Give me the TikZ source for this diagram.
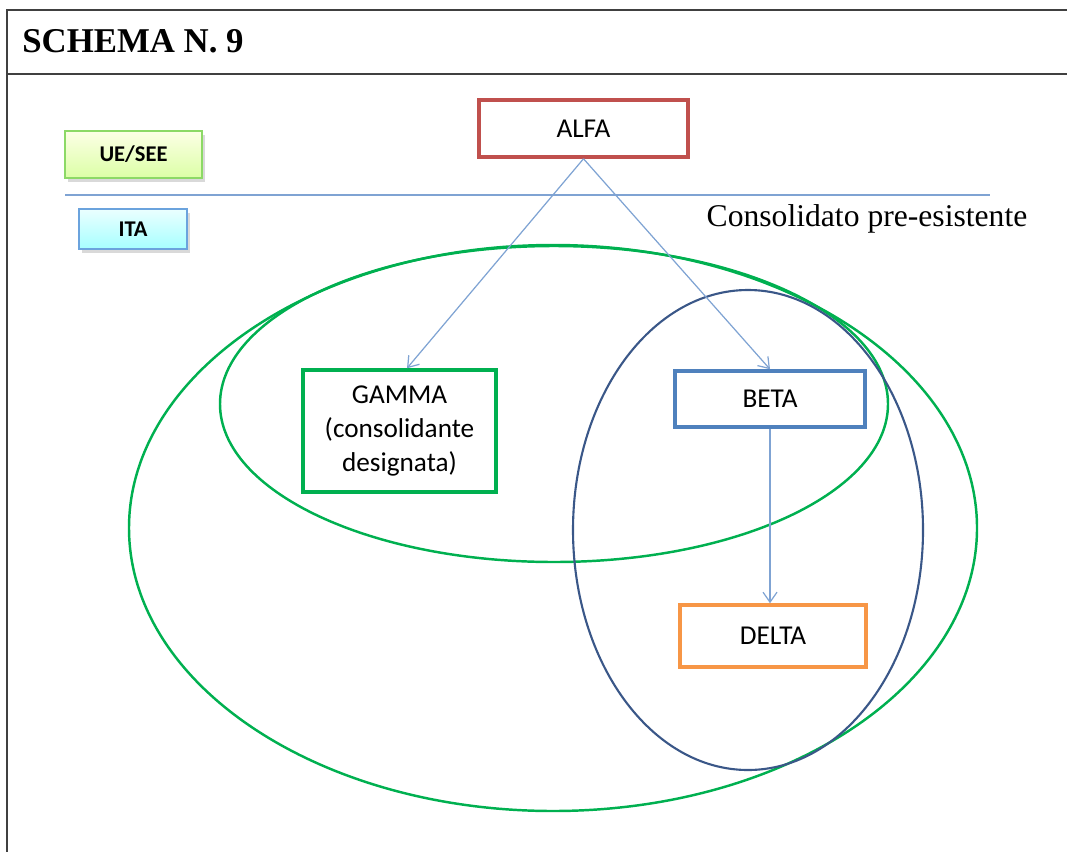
\documentclass[tikz,border=0pt]{standalone}
\usepackage{fontspec}
\setmainfont{Liberation Serif}
\newfontfamily\calibri{Carlito}
\usetikzlibrary{arrows.meta,shadows}
\definecolor{redbox}{HTML}{C0504D}
\definecolor{greenbox}{HTML}{00B050}
\definecolor{bluebox}{HTML}{4F81BD}
\definecolor{orangebox}{HTML}{F79646}
\definecolor{navyline}{HTML}{3A5788}
\definecolor{arrowblue}{HTML}{7FA3D3}
\begin{document}
\begin{tikzpicture}[x=0.02cm,y=-0.02cm,
	entity/.style={draw,line width=2pt,inner sep=0pt,align=center,font=\calibri\fontsize{15.5}{19.3}\selectfont},
	level/.style={draw,line width=0.7pt,inner sep=0pt,font=\calibri\bfseries\fontsize{12.8}{14}\selectfont,drop shadow={shadow xshift=0.6mm,shadow yshift=-0.8mm,opacity=0.3}},
	link/.style={arrowblue,line width=0.7pt,-{Straight Barb[length=2mm,width=2.8mm]}}]
	\useasboundingbox (0,0) rectangle (1067,852);
	\draw[black!75,line width=1.1pt] (1067,10) -- (7,10) -- (7,852);
	\draw[black!75,line width=1.1pt] (7,74) -- (1067,74);
	\node[anchor=base west,inner sep=0pt,font=\bfseries\fontsize{19.8}{22}\selectfont] (title) at (22,52) {SCHEMA N. 9};
	\node[level,draw=green!50!olive!60,top color=green!10!yellow!10,bottom color=green!40!yellow!35,minimum width=137*0.02cm,minimum height=47*0.02cm] (ue) at (133.5,154.5) {UE/SEE};
	\node[level,draw=cyan!60!blue!60,top color=cyan!8,bottom color=cyan!35,minimum width=108*0.02cm,minimum height=40*0.02cm] (ita) at (133,229) {ITA};
	\draw[arrowblue,line width=0.7pt] (65,195) -- (990,195);
	\node[font=\fontsize{18}{21}\selectfont] (pre) at (867,219) {Consolidato pre-esistente};
	% groups
	\draw[greenbox,line width=1.4pt] (553,528) ellipse [x radius=424,y radius=283];
	\draw[greenbox,line width=1.4pt] (554,404) ellipse [x radius=334,y radius=158];
	\draw[navyline,line width=1.2pt] (748,530) ellipse [x radius=175,y radius=240];
	% companies
	\node[entity,draw=redbox,fill=white,minimum width=209*0.02cm,minimum height=57*0.02cm] (alfa) at (583.5,128.5) {ALFA};
	\node[entity,draw=greenbox,fill=white,minimum width=193*0.02cm,minimum height=122*0.02cm] (gamma) at (399.5,431) {GAMMA\\(consolidante\\designata)};
	\node[entity,draw=bluebox,fill=white,minimum width=190*0.02cm,minimum height=56*0.02cm] (beta) at (770,399) {BETA};
	\node[entity,draw=orangebox,fill=white,minimum width=186*0.02cm,minimum height=62*0.02cm] (delta) at (773,636) {DELTA};
	\draw[link] (alfa.south) -- ([xshift=0.15cm]gamma.north);
	\draw[link] (alfa.south) -- (beta.north);
	\draw[link] (beta.south) -- (beta.south |- delta.north);
\end{tikzpicture}
\end{document}
